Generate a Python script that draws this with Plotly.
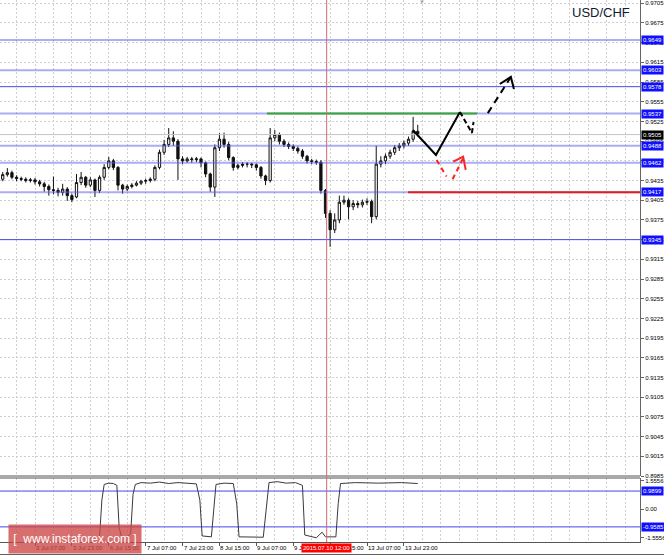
import plotly.graph_objects as go

# ---------------- data ----------------
bar_index = list(range(0, 184, 2))   # hourly bar index, every 2nd bar

open_ = [0.9432, 0.9437, 0.9444, 0.9447, 0.9440, 0.9438, 0.9437, 0.9435, 0.9436, 0.9433,
         0.9430, 0.9426, 0.9421, 0.9420, 0.9417, 0.9422, 0.9412, 0.9410, 0.9432, 0.9440,
         0.9428, 0.9436, 0.9420, 0.9440, 0.9455, 0.9465, 0.9455, 0.9428, 0.9422, 0.9426,
         0.9428, 0.9431, 0.9434, 0.9435, 0.9437, 0.9455, 0.9478, 0.9490, 0.9500, 0.9495,
         0.9468, 0.9465, 0.9468, 0.9467, 0.9468, 0.9462, 0.9445, 0.9425, 0.9485, 0.9498,
         0.9490, 0.9470, 0.9455, 0.9458, 0.9460, 0.9460, 0.9459, 0.9455, 0.9442, 0.9435,
         0.9500, 0.9505, 0.9495, 0.9490, 0.9487, 0.9484, 0.9480, 0.9472, 0.9465, 0.9464,
         0.9463, 0.9420, 0.9385, 0.9360, 0.9375, 0.9402, 0.9405, 0.9395, 0.9400, 0.9398,
         0.9402, 0.9403, 0.9380, 0.9460, 0.9465, 0.9472, 0.9478, 0.9485, 0.9488, 0.9492,
         0.9498, 0.9510]
high = [0.9441, 0.9448, 0.9454, 0.9450, 0.9443, 0.9441, 0.9440, 0.9439, 0.9439, 0.9436,
        0.9433, 0.9429, 0.9441, 0.9424, 0.9430, 0.9425, 0.9415, 0.9445, 0.9448, 0.9442,
        0.9440, 0.9438, 0.9443, 0.9460, 0.9471, 0.9468, 0.9457, 0.9430, 0.9429, 0.9431,
        0.9434, 0.9436, 0.9438, 0.9440, 0.9458, 0.9482, 0.9497, 0.9515, 0.9510, 0.9498,
        0.9472, 0.9471, 0.9471, 0.9471, 0.9470, 0.9464, 0.9447, 0.9490, 0.9507, 0.9508,
        0.9494, 0.9472, 0.9461, 0.9463, 0.9463, 0.9462, 0.9461, 0.9457, 0.9444, 0.9515,
        0.9512, 0.9508, 0.9498, 0.9493, 0.9490, 0.9487, 0.9483, 0.9474, 0.9468, 0.9467,
        0.9466, 0.9422, 0.9390, 0.9385, 0.9412, 0.9412, 0.9408, 0.9405, 0.9404, 0.9406,
        0.9408, 0.9406, 0.9488, 0.9472, 0.9476, 0.9482, 0.9489, 0.9492, 0.9496, 0.9502,
        0.9532, 0.9520]
low = [0.9428, 0.9434, 0.9441, 0.9437, 0.9434, 0.9434, 0.9432, 0.9432, 0.9429, 0.9426,
       0.9418, 0.9412, 0.9414, 0.9411, 0.9412, 0.9404, 0.9402, 0.9408, 0.9428, 0.9424,
       0.9425, 0.9410, 0.9416, 0.9436, 0.9452, 0.9451, 0.9420, 0.9415, 0.9419, 0.9423,
       0.9426, 0.9428, 0.9430, 0.9432, 0.9434, 0.9452, 0.9474, 0.9486, 0.9488, 0.9436,
       0.9460, 0.9462, 0.9462, 0.9463, 0.9455, 0.9440, 0.9418, 0.9410, 0.9480, 0.9485,
       0.9466, 0.9450, 0.9452, 0.9455, 0.9455, 0.9454, 0.9450, 0.9438, 0.9428, 0.9432,
       0.9495, 0.9490, 0.9486, 0.9483, 0.9480, 0.9476, 0.9468, 0.9461, 0.9460, 0.9459,
       0.9415, 0.9378, 0.9334, 0.9355, 0.9370, 0.9398, 0.9376, 0.9390, 0.9393, 0.9394,
       0.9398, 0.9370, 0.9376, 0.9455, 0.9460, 0.9468, 0.9474, 0.9480, 0.9484, 0.9488,
       0.9494, 0.9502]
close = [0.9437, 0.9444, 0.9447, 0.9440, 0.9438, 0.9437, 0.9435, 0.9436, 0.9433, 0.9430,
         0.9426, 0.9421, 0.9420, 0.9417, 0.9422, 0.9412, 0.9406, 0.9432, 0.9440, 0.9428,
         0.9436, 0.9420, 0.9440, 0.9455, 0.9465, 0.9455, 0.9428, 0.9422, 0.9426, 0.9428,
         0.9431, 0.9434, 0.9435, 0.9437, 0.9455, 0.9478, 0.9490, 0.9500, 0.9495, 0.9468,
         0.9465, 0.9468, 0.9467, 0.9468, 0.9462, 0.9445, 0.9425, 0.9485, 0.9498, 0.9490,
         0.9470, 0.9455, 0.9458, 0.9460, 0.9460, 0.9459, 0.9455, 0.9442, 0.9435, 0.9500,
         0.9505, 0.9495, 0.9490, 0.9487, 0.9484, 0.9480, 0.9472, 0.9465, 0.9464, 0.9463,
         0.9420, 0.9385, 0.9360, 0.9375, 0.9402, 0.9405, 0.9395, 0.9400, 0.9398, 0.9402,
         0.9403, 0.9380, 0.9460, 0.9465, 0.9472, 0.9478, 0.9485, 0.9488, 0.9492, 0.9498,
         0.9510, 0.9505]

x_tick_index = [0, 16, 32, 48, 64, 80, 96, 112, 128, 144, 160, 176]
x_tick_labels = ["2 Jul 15:00", "3 Jul 07:00", "3 Jul 23:00", "6 Jul 15:00", "7 Jul 07:00",
                 "7 Jul 23:00", "8 Jul 15:00", "9 Jul 07:00", "9 Jul 23:00", "10 Jul 15:00",
                 "13 Jul 07:00", "13 Jul 23:00"]
x_grid_major = list(range(0, 288, 16))

y_tick_labels = ["0.9705", "0.9675", "0.9645", "0.9615", "0.9585", "0.9555", "0.9525",
                 "0.9495", "0.9465", "0.9435", "0.9405", "0.9375", "0.9345", "0.9315",
                 "0.9285", "0.9255", "0.9225", "0.9195", "0.9165", "0.9135", "0.9105",
                 "0.9075", "0.9045", "0.9015", "0.8985"]

levels_light = [0.9649, 0.9603, 0.9537, 0.9488, 0.9462, 0.9417]
levels_dark = [0.9578, 0.9345]
current_price = 0.9505
green_level = 0.9537
green_span = [116.6, 207.7]
red_level = 0.9417
red_span = [177.8, 278.4]

crosshair_index = 142.5
crosshair_label = "2015.07.10 12:00"

osc_index = [44, 45, 46, 48, 50, 51.5, 52.5, 53.5, 56, 57.5, 58.5, 59.5, 62, 66, 70, 74, 78,
             82, 86, 87.5, 88.5, 92.5, 93.5, 94.5, 98, 102, 103.5, 104.5, 115, 116.5, 117.5,
             121, 125, 129, 132, 133, 138, 140.5, 142, 146.5, 147.5, 148.5, 155, 165, 175, 182]
osc_value = [-1.5, 0.5, 1.35, 1.42, 1.40, 1.30, -1.0, -1.5, -1.52, -1.3, 0.8, 1.35, 1.45,
             1.42, 1.48, 1.40, 1.45, 1.42, 1.38, 0.5, -1.45, -1.5, 0.2, 1.35, 1.42, 1.40,
             0.3, -1.5, -1.52, 0.5, 1.45, 1.5, 1.42, 1.45, 1.3, -1.4, -1.55, -1.25, -1.5,
             -1.5, 0.3, 1.4, 1.45, 1.42, 1.45, 1.40]
osc_levels = [0.9899, -0.9585]
osc_tick_vals = [1.5556, 0.0, -1.5556]
osc_tick_labels = ["1.5556", "0.00", "-1.5556"]

# forecast drawings (bar index, price)
fc_solid_x = [179.9, 189.9, 200.3]
fc_solid_y = [0.9512, 0.9474, 0.95395]
fc_check_x = [200.3, 205.5, 206.2]
fc_check_y = [0.95395, 0.95075, 0.9524]
fc_dash_x = [212.4, 222.4]
fc_dash_y = [0.95377, 0.95928]
fc_arrow_x = [217.6, 222.4, 223.7]
fc_arrow_y = [0.95821, 0.95928, 0.95745]
red_dash1_x = [190.2, 194.5]
red_dash1_y = [0.94664, 0.94410]
red_dash2_x = [197.1, 201.7]
red_dash2_y = [0.9437, 0.9469]
red_arrow_x = [197.4, 201.7, 202.8]
red_arrow_y = [0.94638, 0.94714, 0.94512]

# ---------------- figure ----------------
FONT = "Liberation Sans, Arial, sans-serif"
X_RANGE = [0.82, 278.4]
Y_RANGE = [0.8985, 0.9710]
MAIN_BOTTOM = 66 / 542
OSC_TOP = 64 / 542

fig = go.Figure()

def hline(level, x0, x1, color, width, dash="solid"):
    fig.add_trace(go.Scatter(x=[x0, x1], y=[level, level], mode="lines",
                             line=dict(color=color, width=width, dash=dash),
                             hoverinfo="skip", showlegend=False))

for lv in levels_light:
    hline(lv, X_RANGE[0], X_RANGE[1], "rgba(90,90,240,0.5)", 2)
for lv in levels_dark:
    hline(lv, X_RANGE[0], X_RANGE[1], "#4646f0", 1)
hline(current_price, X_RANGE[0], X_RANGE[1], "#c4c4c4", 1)
hline(green_level, green_span[0], green_span[1], "#33a833", 2)
hline(red_level, red_span[0], red_span[1], "#e41e1e", 2)

fig.add_trace(go.Candlestick(
    x=bar_index, open=open_, high=high, low=low, close=close,
    increasing=dict(line=dict(color="#111111", width=1), fillcolor="#ffffff"),
    decreasing=dict(line=dict(color="#111111", width=1), fillcolor="#111111"),
    whiskerwidth=0, hoverinfo="skip", showlegend=False))

def poly(xs, ys, color, dash="solid", width=2):
    fig.add_trace(go.Scatter(x=xs, y=ys, mode="lines",
                             line=dict(color=color, width=width, dash=dash),
                             hoverinfo="skip", showlegend=False))

poly(fc_solid_x, fc_solid_y, "#000000")
poly(fc_check_x, fc_check_y, "#000000", dash="5px,3px")
poly(fc_dash_x, fc_dash_y, "#000000", dash="7px,5px")
poly(fc_arrow_x, fc_arrow_y, "#000000")
poly(red_dash1_x, red_dash1_y, "#ff2222", dash="5px,4px")
poly(red_dash2_x, red_dash2_y, "#ff2222", dash="5px,4px")
poly(red_arrow_x, red_arrow_y, "#ff2222")

for lv in osc_levels:
    fig.add_trace(go.Scatter(x=[X_RANGE[0], X_RANGE[1]], y=[lv, lv], mode="lines",
                             line=dict(color="#4646f0", width=1), xaxis="x2", yaxis="y2",
                             hoverinfo="skip", showlegend=False))
fig.add_trace(go.Scatter(x=osc_index, y=osc_value, mode="lines",
                         line=dict(color="#3a3a3a", width=1), xaxis="x2", yaxis="y2",
                         hoverinfo="skip", showlegend=False))

grid = dict(showgrid=True, gridcolor="#cfcfcf", griddash="2px,2px", gridwidth=1)

fig.update_layout(
    width=664, height=555,
    margin=dict(l=0, r=24, t=0, b=13),
    paper_bgcolor="white", plot_bgcolor="white",
    showlegend=False, hovermode=False,
    font=dict(family=FONT, size=6, color="#000000"),
    xaxis=dict(domain=[0, 1], anchor="y", range=X_RANGE, rangeslider=dict(visible=False),
               tickmode="array", tickvals=x_grid_major, ticktext=[""] * len(x_grid_major),
               ticks="", zeroline=False,
               minor=dict(tick0=0, dtick=8, showgrid=True, gridcolor="#cfcfcf",
                          griddash="2px,2px"),
               **grid),
    xaxis2=dict(domain=[0, 1], anchor="y2", range=X_RANGE, matches="x",
                tickmode="array", tickvals=x_tick_index, ticktext=[""] * len(x_tick_index),
                ticks="outside", ticklen=3, tickcolor="#555555", zeroline=False,
                showline=True, linecolor="#555555", linewidth=1,
                minor=dict(tick0=0, dtick=8, showgrid=True, gridcolor="#cfcfcf",
                           griddash="2px,2px"),
                **grid),
    yaxis=dict(domain=[MAIN_BOTTOM, 1], anchor="x", side="right", range=Y_RANGE,
               tickmode="array", tickvals=[float(s) for s in y_tick_labels],
               ticktext=y_tick_labels, ticks="outside", ticklen=3, tickcolor="#666666",
               showline=True, linecolor="#666666", zeroline=False, automargin=False,
               tickfont=dict(size=6, family=FONT, color="#000000"), **grid),
    yaxis2=dict(domain=[0, OSC_TOP], anchor="x2", side="right", range=[-1.78, 1.70],
                tickmode="array", tickvals=osc_tick_vals, ticktext=osc_tick_labels,
                ticks="outside", ticklen=3, tickcolor="#666666", automargin=False,
                showline=True, linecolor="#666666", zeroline=False, showgrid=False,
                tickfont=dict(size=6, family=FONT, color="#000000")),
)

shapes = []
shapes.append(dict(type="line", xref="paper", yref="paper", x0=0, x1=1,
                   y0=MAIN_BOTTOM, y1=MAIN_BOTTOM, line=dict(color="#555555", width=1)))
shapes.append(dict(type="line", xref="paper", yref="paper", x0=0, x1=1,
                   y0=OSC_TOP, y1=OSC_TOP, line=dict(color="#555555", width=1)))
shapes.append(dict(type="line", xref="x", yref="paper", x0=crosshair_index, x1=crosshair_index,
                   y0=0, y1=1, line=dict(color="#d46a6a", width=1)))
shapes.append(dict(type="line", xref="paper", yref="paper", x0=0, x1=664 / 640,
                   y0=-12.5 / 542, y1=-12.5 / 542, line=dict(color="#606060", width=1)))
fig.update_layout(shapes=shapes)

ann = []
for xi, lab in zip(x_tick_index, x_tick_labels):
    ann.append(dict(x=xi, y=-6 / 542, xref="x2", yref="paper", text=lab, showarrow=False,
                    xanchor="left", yanchor="middle", xshift=-1,
                    font=dict(size=6, family=FONT, color="#000000")))
for lv in levels_light + levels_dark:
    ann.append(dict(x=1, y=lv, xref="paper", yref="y", text=f"{lv:.4f}", showarrow=False,
                    xanchor="left", yanchor="middle", xshift=1, bgcolor="#1010ff",
                    borderpad=1, font=dict(size=6, family=FONT, color="#ffffff")))
ann.append(dict(x=1, y=current_price, xref="paper", yref="y", text=f"{current_price:.4f}",
                showarrow=False, xanchor="left", yanchor="middle", xshift=1,
                bgcolor="#000000", borderpad=1,
                font=dict(size=6, family=FONT, color="#ffffff")))
for lv in osc_levels:
    ann.append(dict(x=1, y=lv, xref="paper", yref="y2", text=f"{lv:.4f}", showarrow=False,
                    xanchor="left", yanchor="middle", xshift=1, bgcolor="#1010ff",
                    borderpad=1, font=dict(size=6, family=FONT, color="#ffffff")))
ann.append(dict(x=crosshair_index, y=-6 / 542, xref="x2", yref="paper", text=crosshair_label,
                showarrow=False, xanchor="center", yanchor="middle", bgcolor="#ff0000",
                borderpad=1, font=dict(size=6, family=FONT, color="#ffffff")))
ann.append(dict(x=632 / 640, y=1 - 12 / 542, xref="paper", yref="paper", text="USD/CHF",
                showarrow=False, xanchor="right", yanchor="middle",
                font=dict(size=13, family="Liberation Sans, Arial, sans-serif",
                          color="#111a33")))
ann.append(dict(x=183.7, y=1, xref="x", yref="paper", text="▼", showarrow=False,
                xanchor="center", yanchor="top", yshift=3,
                font=dict(size=6, color="#a8a8a8")))
ann.append(dict(x=75 / 640, y=(542 - 538.5) / 542, xref="paper", yref="paper",
                text="[  www.instaforex.com ]", showarrow=False, xanchor="center",
                yanchor="middle", width=130, height=26, bgcolor="rgba(205,70,70,0.78)",
                font=dict(size=12, family="Liberation Sans, Arial, sans-serif",
                          color="#ffffff")))
fig.update_layout(annotations=ann)

fig.write_html("out.html", config={"displayModeBar": False},
               post_script="document.body.style.margin='0';document.body.style.padding='0';")
